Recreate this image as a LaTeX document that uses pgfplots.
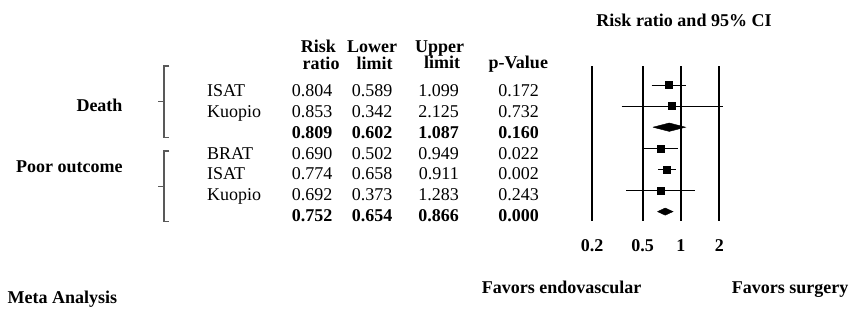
\documentclass[border=0pt]{standalone}
\usepackage{fontspec}
\setmainfont{Liberation Serif}
\usepackage{pgfplots}
\pgfplotsset{compat=1.18}
\begin{document}
\begin{tikzpicture}[x=1pt,y=-1pt, every node/.style={inner sep=0pt, font=\fontsize{18}{21}\selectfont}]
\useasboundingbox[fill=white] (0,0) rectangle (849,308);
% title
\node[anchor=base, font=\bfseries\fontsize{18}{21}\selectfont] at (684,26.5) {Risk ratio and 95\% CI};
% headers
\begin{scope}[every node/.style={inner sep=0pt, anchor=base, font=\bfseries\fontsize{18}{21}\selectfont}]
\node at (318.5,52) {Risk};
\node at (321,69) {ratio};
\node at (372,52) {Lower};
\node at (374.5,69) {limit};
\node at (439.5,52) {Upper};
\node at (442,68.5) {limit};
\node at (518.3,68.5) {p-Value};
\end{scope}
% group labels
\node[anchor=base east, font=\bfseries\fontsize{18}{21}\selectfont] at (122.7,111) {Death};
\node[anchor=base east, font=\bfseries\fontsize{18}{21}\selectfont] at (122.7,172) {Poor outcome};
% brackets
\draw[black!65, line width=1.3pt] (169.3,66) -- (164,66) -- (164,137.3) -- (169.3,137.3);
\draw[black!65, line width=1.3pt] (158.3,101.7) -- (164,101.7);
\draw[black!65, line width=1.3pt] (169.3,151) -- (164,151) -- (164,221.7) -- (169.3,221.7);
\draw[black!65, line width=1.3pt] (158.3,186.3) -- (164,186.3);
% study names
\begin{scope}[every node/.style={inner sep=0pt, anchor=base west, font=\fontsize{18}{21}\selectfont}]
\node at (207,96.5) {ISAT};
\node at (207,117.3) {Kuopio};
\node at (207,159) {BRAT};
\node at (207,179.8) {ISAT};
\node at (207,200.7) {Kuopio};
\end{scope}
% table values
\begin{scope}[every node/.style={inner sep=0pt, anchor=base east, font=\fontsize{18}{21}\selectfont}]
\node at (332.5,96.5) {0.804}; \node at (392.5,96.5) {0.589}; \node at (459,96.5) {1.099}; \node at (539,96.5) {0.172};
\node at (332.5,117.3) {0.853}; \node at (392.5,117.3) {0.342}; \node at (459,117.3) {2.125}; \node at (539,117.3) {0.732};
\node[font=\bfseries\fontsize{18}{21}\selectfont] at (332.5,138.2) {0.809}; \node[font=\bfseries\fontsize{18}{21}\selectfont] at (392.5,138.2) {0.602}; \node[font=\bfseries\fontsize{18}{21}\selectfont] at (459,138.2) {1.087}; \node[font=\bfseries\fontsize{18}{21}\selectfont] at (539,138.2) {0.160};
\node at (332.5,159) {0.690}; \node at (392.5,159) {0.502}; \node at (459,159) {0.949}; \node at (539,159) {0.022};
\node at (332.5,179.8) {0.774}; \node at (392.5,179.8) {0.658}; \node at (459,179.8) {0.911}; \node at (539,179.8) {0.002};
\node at (332.5,200.7) {0.692}; \node at (392.5,200.7) {0.373}; \node at (459,200.7) {1.283}; \node at (539,200.7) {0.243};
\node[font=\bfseries\fontsize{18}{21}\selectfont] at (332.5,221.5) {0.752}; \node[font=\bfseries\fontsize{18}{21}\selectfont] at (392.5,221.5) {0.654}; \node[font=\bfseries\fontsize{18}{21}\selectfont] at (459,221.5) {0.866}; \node[font=\bfseries\fontsize{18}{21}\selectfont] at (539,221.5) {0.000};
\end{scope}
% bottom texts
\node[anchor=base west, font=\bfseries\fontsize{18}{21}\selectfont] at (481.7,293) {Favors endovascular};
\node[anchor=base west, font=\bfseries\fontsize{18}{21}\selectfont] at (731.7,293) {Favors surgery};
\node[anchor=base west, font=\bfseries\fontsize{18}{21}\selectfont] at (7.5,303.5) {Meta Analysis};
% forest plot
\begin{axis}[
  at={(592pt,-232.7pt)}, anchor=south west,
  scale only axis, width=127.3pt, height=168.8pt,
  xmode=log, xmin=0.2, xmax=2, ymin=-8, ymax=0,
  enlargelimits=false, clip=false,
  axis line style={draw=none},
  major tick length=0pt,
  xtick={0.2,0.5,1,2}, xticklabels={0.2,0.5,1,2},
  ytick=\empty,
  /pgf/number format/assume math mode=true,
  xticklabel style={anchor=base, yshift=-18.3pt, inner sep=0pt, font=\bfseries\fontsize{18}{21}\selectfont},
]
% reference lines
\addplot[black, line width=1.8pt] coordinates {(0.2,-0.1) (0.2,-7.45)};
\addplot[black, line width=1.8pt] coordinates {(0.5,-0.1) (0.5,-7.45)};
\addplot[black, line width=1.8pt] coordinates {(1,-0.1) (1,-7.45)};
\addplot[black, line width=1.8pt] coordinates {(2,-0.1) (2,-7.45)};
% confidence intervals
\addplot[black, line width=0.8pt] coordinates {(0.589,-1) (1.099,-1)};
\addplot[black, line width=0.8pt] coordinates {(0.342,-2) (2.125,-2)};
\addplot[black, line width=0.8pt] coordinates {(0.502,-4) (0.949,-4)};
\addplot[black, line width=0.8pt] coordinates {(0.658,-5) (0.911,-5)};
\addplot[black, line width=0.8pt] coordinates {(0.373,-6) (1.283,-6)};
% point estimates
\addplot[only marks, mark=square*, mark size=3.5pt, black] coordinates {(0.804,-1) (0.853,-2) (0.690,-4) (0.774,-5) (0.692,-6)};
% pooled diamonds
\addplot[black, fill=black, line width=0.4pt] coordinates {(0.602,-3) (0.809,-2.8) (1.087,-3) (0.809,-3.2) (0.602,-3)};
\addplot[black, fill=black, line width=0.4pt] coordinates {(0.654,-7) (0.752,-6.83) (0.866,-7) (0.752,-7.17) (0.654,-7)};
\end{axis}
\end{tikzpicture}
\end{document}
